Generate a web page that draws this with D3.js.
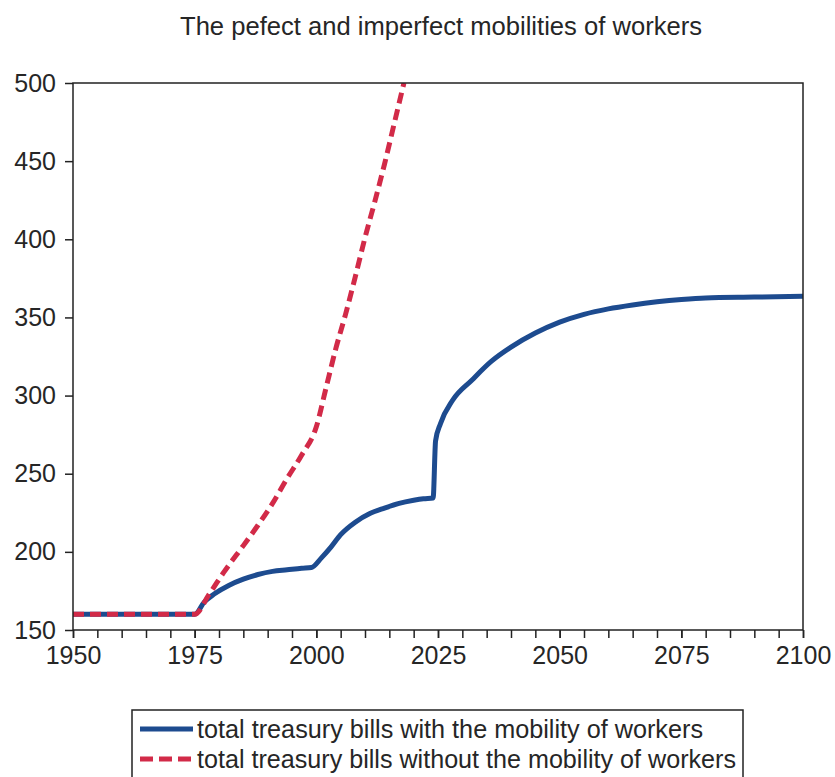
<!DOCTYPE html>
<html>
<head>
<meta charset="utf-8">
<script src="https://cdn.jsdelivr.net/npm/d3@7"></script>
<style>
  body { margin: 0; background: #fff; }
  text { font-family: "Liberation Sans", Arial, sans-serif; fill: #262626; }
</style>
</head>
<body>
<div id="chart"></div>
<script>
// values
var blueYears  = [1950, 1955, 1960, 1965, 1970, 1975, 1977, 1979, 1982, 1985, 1988, 1991, 1994, 1997, 1999, 2001, 2003, 2005, 2008, 2011, 2014, 2017, 2020, 2022, 2024, 2024.5, 2025.5, 2028, 2032, 2036, 2040, 2045, 2050, 2055, 2060, 2065, 2070, 2075, 2080, 2090, 2100];
var blueValues = [160, 160, 160, 160, 160, 160, 168, 173, 178.5, 182.5, 185.5, 187.5, 188.5, 189.5, 190, 196, 203, 211, 219, 224.5, 228, 231, 233, 234, 234.5, 271, 282, 297, 310, 322, 331, 340, 347, 352, 355.5, 358, 360, 361.5, 362.5, 363, 363.5];

var redYears  = [1950, 1955, 1960, 1965, 1970, 1975, 1978, 1981, 1985, 1988, 1991, 1994, 1997, 2000, 2002, 2004, 2006, 2008, 2010, 2012, 2014, 2016, 2018];
var redValues = [160, 160, 160, 160, 160, 160, 173, 187, 204, 217, 231, 247, 262, 280, 305, 330, 352, 376, 401, 424, 448, 474, 500];

var xTicks = [1950, 1975, 2000, 2025, 2050, 2075, 2100];
var yTicks = [150, 200, 250, 300, 350, 400, 450, 500];

var title = "The pefect and imperfect mobilities of workers";
var seriesNames = ["total treasury bills with the mobility of workers",
                   "total treasury bills without the mobility of workers"];

var width = 835,
    height = 777;
var margin = {top: 83, right: 32, bottom: 147, left: 73};
var w = width - margin.left - margin.right,
    h = height - margin.top - margin.bottom;

var blue = "#1d4b8f",
    red = "#d22a48";

var svg = d3.select("#chart").append("svg")
    .attr("width", width)
    .attr("height", height);

svg.append("text")
    .attr("x", 441)
    .attr("y", 35)
    .attr("text-anchor", "middle")
    .attr("font-size", 25)
    .attr("textLength", 522)
    .attr("lengthAdjust", "spacingAndGlyphs")
    .text(title);

var g = svg.append("g")
    .attr("transform", "translate(" + margin.left + "," + margin.top + ")");

var x = d3.scaleLinear().domain([1950, 2100]).range([0, w]);
var y = d3.scaleLinear().domain([150, 500]).range([h, 0]);

g.append("clipPath").attr("id", "clip")
  .append("rect").attr("width", w).attr("height", h);

var line = d3.line()
    .curve(d3.curveMonotoneX)
    .x(function(d) { return x(d[0]); })
    .y(function(d) { return y(d[1]); });

var blueData = blueYears.map(function(d, i) { return [d, blueValues[i]]; });
var redData = redYears.map(function(d, i) { return [d, redValues[i]]; });

g.append("path")
    .datum(blueData)
    .attr("clip-path", "url(#clip)")
    .attr("fill", "none")
    .attr("stroke", blue)
    .attr("stroke-width", 5)
    .attr("d", line);

g.append("path")
    .datum(redData)
    .attr("clip-path", "url(#clip)")
    .attr("fill", "none")
    .attr("stroke", red)
    .attr("stroke-width", 5)
    .attr("stroke-dasharray", "11,6")
    .attr("d", line);

// frame
g.append("rect")
    .attr("width", w)
    .attr("height", h)
    .attr("fill", "none")
    .attr("stroke", "#222")
    .attr("stroke-width", 1.5);

g.append("g")
    .attr("transform", "translate(0," + h + ")")
    .call(d3.axisBottom(x).tickValues(d3.range(1950, 2101, 5)).tickSize(8).tickFormat(""));
var xLab = g.append("g")
    .attr("transform", "translate(0," + h + ")")
    .call(d3.axisBottom(x).tickValues(xTicks).tickSize(8).tickFormat(d3.format("d")).tickPadding(8));
g.append("g")
    .call(d3.axisLeft(y).tickValues(yTicks).tickSize(8).tickPadding(9));

g.selectAll(".domain").remove();
g.selectAll(".tick line").attr("stroke", "#222").attr("stroke-width", 1.5);
g.selectAll(".tick text")
    .attr("font-family", "Liberation Sans, Arial, sans-serif")
    .attr("font-size", 25)
    .attr("fill", "#262626");
xLab.selectAll(".tick text").attr("dy", "0.72em");

// legend
var legend = svg.append("g");
legend.append("rect")
    .attr("x", 132)
    .attr("y", 710)
    .attr("width", 611)
    .attr("height", 90)
    .attr("fill", "#fff")
    .attr("stroke", "#222")
    .attr("stroke-width", 1.5);

var legendRows = [
  {name: seriesNames[0], color: blue, dash: null, len: 506},
  {name: seriesNames[1], color: red, dash: "13,6", len: 539}
];

legendRows.forEach(function(r, i) {
  var yy = 729 + i * 30;
  legend.append("line")
      .attr("x1", 140).attr("x2", 193)
      .attr("y1", yy).attr("y2", yy)
      .attr("stroke", r.color)
      .attr("stroke-width", 5)
      .attr("stroke-dasharray", r.dash);
  legend.append("text")
      .attr("x", 197)
      .attr("y", yy)
      .attr("dy", "0.35em")
      .attr("font-size", 25)
      .attr("textLength", r.len)
      .attr("lengthAdjust", "spacingAndGlyphs")
      .text(r.name);
});
</script>
</body>
</html>
